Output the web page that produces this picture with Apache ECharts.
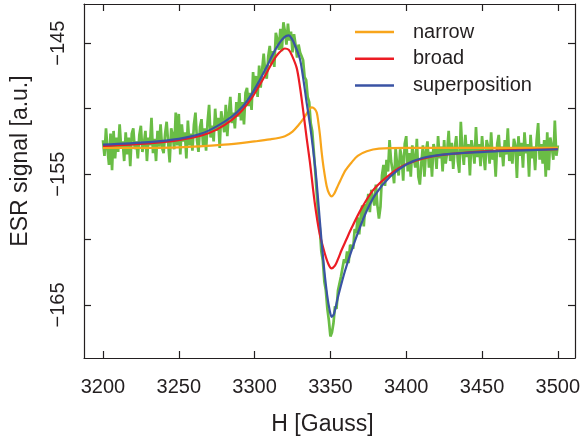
<!DOCTYPE html>
<html>
<head>
<meta charset="utf-8">
<script src="https://cdn.jsdelivr.net/npm/echarts@6/dist/echarts.min.js"></script>
<style>
  html, body { margin: 0; padding: 0; background: #fff; }
  #chart { width: 582px; height: 437px; }
</style>
</head>
<body>
<div id="chart"></div>
<script>
// measured field signal, one sample per gauss from 3200 G
const FIELD_START = 3200
const fieldSignal = [
  -152.4, -153.6, -151.5, -153.1, -154.3, -151.9, -154.7, -151.7, -153.8, -152.2,
  -153.3, -151.2, -153.0, -152.5, -154.0, -151.8, -153.5, -152.2, -154.4, -151.9,
  -151.5, -153.1, -152.5, -153.8, -152.0, -151.3, -153.3, -152.7, -151.7, -154.0,
  -152.2, -152.8, -150.7, -153.4, -152.3, -154.0, -151.7, -152.9, -151.2, -153.0,
  -153.4, -151.9, -151.0, -152.6, -154.1, -151.5, -152.0, -153.1, -150.3, -152.8,
  -150.4, -153.5, -151.2, -152.5, -151.8, -153.8, -150.9, -152.8, -151.9, -153.2,
  -151.2, -150.3, -152.4, -153.3, -151.4, -150.8, -152.8, -151.5, -153.2, -151.0,
  -149.7, -152.2, -151.3, -152.5, -150.0, -151.7, -150.7, -153.0, -150.2, -151.0,
  -151.8, -149.7, -152.1, -150.3, -149.1, -151.1, -150.3, -151.5, -149.5, -150.6,
  -148.8, -150.9, -149.5, -151.2, -148.8, -148.4, -149.8, -148.8, -150.1, -147.2,
  -148.8, -147.5, -149.1, -146.7, -148.4, -147.0, -145.8, -147.2, -147.7, -146.0,
  -145.2, -146.6, -145.6, -146.8, -144.2, -144.7, -145.5, -143.9, -145.6, -143.4,
  -144.1, -145.1, -143.5, -144.8, -144.1, -145.7, -144.3, -145.1, -146.1, -145.1,
  -145.7, -146.0, -146.3, -147.6, -147.8, -149.1, -149.5, -151.1, -151.7, -153.2,
  -154.8, -156.5, -158.1, -159.1, -160.9, -161.6, -163.2, -163.9, -165.3, -166.2,
  -167.4, -167.1, -166.4, -165.1, -165.3, -163.9, -163.9, -162.8, -162.7, -161.5,
  -161.8, -160.9, -161.8, -160.4, -160.3, -160.7, -159.2, -159.5, -158.3, -159.6,
  -158.2, -157.4, -159.0, -157.3, -157.7, -156.5, -157.9, -156.2, -156.3, -157.4,
  -155.8, -157.4, -158.4, -157.5, -155.1, -154.3, -155.9, -153.9, -154.8, -152.4,
  -154.0, -154.7, -155.7, -153.0, -154.3, -155.1, -153.1, -153.7, -155.5, -152.7,
  -152.1, -154.8, -153.4, -155.2, -152.8, -153.8, -154.5, -152.3, -155.2, -155.8,
  -154.1, -152.8, -155.2, -153.3, -152.5, -154.5, -153.3, -155.2, -152.7, -153.2,
  -154.6, -152.1, -153.8, -152.9, -154.8, -152.4, -154.2, -153.3, -151.7, -154.0,
  -152.6, -154.6, -153.0, -152.1, -154.0, -154.9, -151.0, -153.2, -154.3, -152.0,
  -153.7, -152.7, -155.1, -152.4, -153.1, -154.2, -151.4, -153.7, -152.7, -154.4,
  -152.1, -153.5, -154.7, -152.4, -152.9, -154.2, -151.8, -153.9, -153.2, -155.2,
  -152.7, -152.0, -153.7, -152.9, -154.4, -152.4, -153.5, -151.5, -154.0, -153.0,
  -154.2, -152.3, -152.8, -155.3, -152.1, -153.6, -152.6, -154.5, -151.8, -153.4,
  -152.7, -155.2, -152.0, -153.8, -152.9, -154.7, -152.4, -151.1, -153.9, -152.7,
  -154.2, -152.4, -155.2, -151.8, -154.7, -152.2, -152.9, -153.9, -150.9, -153.6,
  -152.8,
]

// fitted components
const narrowH = [3200, 3250, 3280, 3300, 3310, 3320, 3325, 3329, 3332, 3334.5, 3336, 3337.7, 3339.5, 3341, 3342, 3343.1, 3344.2, 3345.5, 3347.5, 3349.2, 3350.8, 3352.5, 3354.5, 3356.5, 3360, 3364, 3368, 3374, 3382, 3400, 3500]
const narrowV = [-153.0, -152.95, -152.75, -152.5, -152.35, -152.1, -151.75, -151.25, -150.8, -150.35, -150.05, -149.9, -150.0, -150.3, -151.0, -152.0, -153.3, -154.5, -155.9, -156.5, -156.7, -156.5, -156.0, -155.5, -154.7, -154.1, -153.6, -153.25, -153.05, -153.0, -153.0]

const broadH = [3200, 3230, 3250, 3265, 3275, 3285, 3292, 3298, 3303, 3308, 3312, 3316, 3320, 3322.5, 3324.5, 3327.8, 3330, 3332.1, 3334.4, 3336.5, 3339.8, 3343, 3346.4, 3348.8, 3350.8, 3353, 3355, 3357.4, 3360.5, 3364, 3370.6, 3378.3, 3389, 3400, 3415, 3430, 3460, 3500]
const broadV = [-152.85, -152.65, -152.4, -152.05, -151.6, -150.85, -150.1, -149.2, -148.25, -147.25, -146.4, -145.75, -145.4, -145.5, -145.9, -146.9, -148.4, -150.2, -152.3, -154.1, -157.3, -159.6, -161.1, -161.9, -162.2, -162.0, -161.5, -160.8, -160.0, -159.1, -157.6, -156.2, -155.05, -154.25, -153.7, -153.45, -153.2, -153.1]

const sumH = [3200, 3230, 3250, 3265, 3275, 3285, 3292, 3298, 3303, 3308, 3312, 3316, 3319.5, 3322.5, 3324.5, 3326.6, 3329.9, 3332.1, 3334.4, 3336.5, 3338.7, 3340.5, 3342.2, 3344, 3346, 3347.8, 3349.5, 3350.8, 3352.3, 3355.2, 3359.6, 3366.2, 3372.8, 3379.4, 3389.3, 3400.3, 3411.3, 3429, 3460, 3500]
const sumV = [-152.75, -152.55, -152.3, -151.9, -151.35, -150.6, -149.85, -148.9, -147.9, -146.8, -145.85, -145.05, -144.55, -144.4, -144.65, -145.15, -146.2, -147.7, -149.6, -151.2, -153.2, -155.1, -157.4, -159.9, -162.4, -164.2, -165.4, -165.9, -165.7, -164.3, -162.4, -160.1, -158.1, -156.6, -155.2, -154.25, -153.75, -153.45, -153.25, -153.1]

const xTicks = [3200, 3250, 3300, 3350, 3400, 3450, 3500]
const yTicks = [-165, -160, -155, -150, -145]
const yLabels = [-165, -155, -145]

const COLORS = { field: '#6abd45', narrow: '#f8a51b', broad: '#ec1c24', sum: '#3a53a4' }
const FONT = 'Liberation Sans, Arial, sans-serif'
const INK = '#231f20'

const pairs = (xs, ys) => xs.map((x, i) => [x, ys[i]])
const minus = v => String(v).replace('-', '\u2212')

const chart = echarts.init(document.getElementById('chart'), null, { renderer: 'canvas' })

const fitLine = (name, xs, ys, color) => ({
  name,
  type: 'line',
  data: pairs(xs, ys),
  smooth: 0.3,
  symbol: 'none',
  lineStyle: { color, width: 2.2 },
  itemStyle: { color },
})

const boxAxis = {
  axisLine: { show: true, lineStyle: { color: INK, width: 1.2 } },
  axisTick: { show: true, inside: true, length: 7, lineStyle: { color: INK, width: 1.2 } },
  splitLine: { show: false },
}

chart.setOption({
  animation: false,
  backgroundColor: '#fff',
  textStyle: { fontFamily: FONT },
  grid: { left: 84, right: 7, top: 4, bottom: 79, outerBoundsMode: 'none' },
  legend: {
    orient: 'vertical',
    left: 355,
    top: 22,
    padding: 0,
    icon: 'rect',
    itemWidth: 39,
    itemHeight: 2.5,
    itemGap: 6.7,
    data: ['narrow', 'broad', 'superposition'],
    textStyle: { color: INK, fontSize: 20, fontFamily: FONT, lineHeight: 20, padding: [0, 0, 0, 14] },
  },
  xAxis: [
    {
      type: 'value', min: 3187.5, max: 3511.3, position: 'bottom',
      ...boxAxis,
      axisTick: { ...boxAxis.axisTick, customValues: xTicks },
      axisLabel: { customValues: xTicks, color: INK, fontSize: 20, fontFamily: FONT, margin: 19, formatter: v => String(v) },
      name: 'H [Gauss]', nameLocation: 'middle', nameGap: 55,
      nameTextStyle: { color: INK, fontSize: 23, fontFamily: FONT, padding: [0, 14, 0, 0] },
    },
    {
      type: 'value', min: 3187.5, max: 3511.3, position: 'top',
      ...boxAxis,
      axisTick: { ...boxAxis.axisTick, customValues: xTicks },
      axisLabel: { show: false },
    },
  ],
  yAxis: [
    {
      type: 'value', min: -169.05, max: -142.0, position: 'left',
      ...boxAxis,
      axisTick: { ...boxAxis.axisTick, customValues: yTicks },
      axisLabel: {
        customValues: yLabels, color: INK, fontSize: 20, fontFamily: FONT,
        rotate: 90, margin: 16, formatter: minus,
      },
      name: 'ESR signal [a.u.]', nameLocation: 'middle', nameGap: 52, nameRotate: 90,
      nameTextStyle: { color: INK, fontSize: 23, fontFamily: FONT, padding: [0, 0, 0, 40] },
    },
    {
      type: 'value', min: -169.05, max: -142.0, position: 'right',
      ...boxAxis,
      axisTick: { ...boxAxis.axisTick, customValues: yTicks },
      axisLabel: { show: false },
    },
  ],
  series: [
    {
      name: 'field',
      type: 'line',
      data: fieldSignal.map((v, i) => [FIELD_START + i, v]),
      symbol: 'none',
      lineStyle: { color: COLORS.field, width: 2.7 },
      itemStyle: { color: COLORS.field },
      z: 1,
    },
    fitLine('narrow', narrowH, narrowV, COLORS.narrow),
    fitLine('broad', broadH, broadV, COLORS.broad),
    fitLine('superposition', sumH, sumV, COLORS.sum),
  ],
})
</script>
</body>
</html>
